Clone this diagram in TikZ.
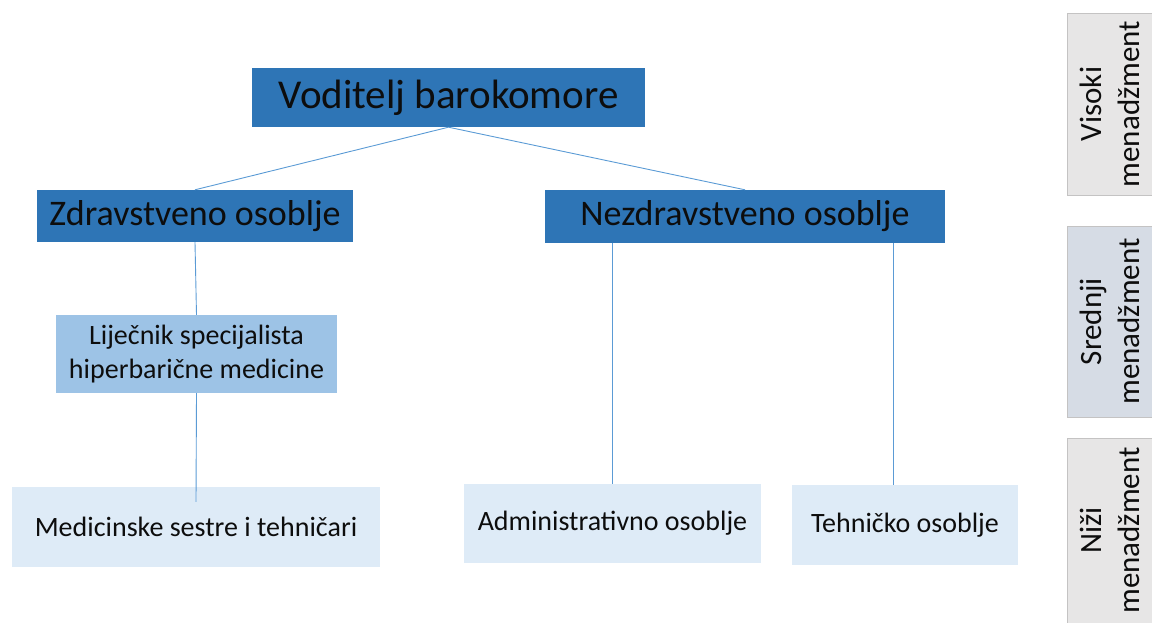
\documentclass[tikz,border=0pt]{standalone}
\usepackage{fontspec}
\setmainfont{Carlito}
\definecolor{darkblue}{HTML}{2E75B6}
\definecolor{midblue}{HTML}{9DC3E6}
\definecolor{lightblue}{HTML}{DEEBF7}
\definecolor{linkblue}{HTML}{5B9BD5}
\definecolor{levelgray}{HTML}{E7E6E6}
\definecolor{levelblue}{HTML}{D6DCE5}
\definecolor{textdark}{HTML}{0D0D0D}
\tikzset{
	box/.style={inner sep=0pt, align=center, text=textdark},
	head/.style={box, fill=darkblue, font=\fontsize{41}{48}\selectfont},
	branch/.style={box, fill=darkblue, font=\fontsize{36}{43}\selectfont},
	doctor/.style={box, fill=midblue, font=\fontsize{28}{33.5}\selectfont},
	staff/.style={box, fill=lightblue, font=\fontsize{28}{33.5}\selectfont},
	level/.style={box, draw=levelgray!85!black, line width=0.5pt, rotate=90,
		minimum width=182pt, minimum height=85pt, font=\fontsize{31}{38}\selectfont},
	link/.style={draw=linkblue, line width=0.9pt}
}
\begin{document}
\begin{tikzpicture}[x=1pt, y=-1pt]
	\useasboundingbox (0,0) rectangle (1152,623);

	\node(vod) [head, minimum width=393pt, minimum height=59pt] at (448.5,97.5) {Voditelj barokomore};
	\node(zdr) [branch, minimum width=316pt, minimum height=52pt] at (195,216) {Zdravstveno osoblje};
	\node(nez) [branch, minimum width=400pt, minimum height=53pt] at (745,216.5) {Nezdravstveno osoblje};
	\node(lij) [doctor, minimum width=281pt, minimum height=78pt] at (196.5,354) {Liječnik specijalista\\hiperbarične medicine};
	\node(med) [staff, minimum width=368pt, minimum height=80pt] at (196,527) {Medicinske sestre i tehničari};
	\node(adm) [staff, minimum width=297pt, minimum height=79pt] at (612.5,523.5) {Administrativno osoblje};
	\node(teh) [staff, minimum width=226pt, minimum height=80pt] at (905,525) {Tehničko osoblje};

	\node(vis) [level, fill=levelgray] at (1109.5,104) {Visoki\\menadžment};
	\node(sre) [level, fill=levelblue, minimum width=191pt] at (1109.5,321.5) {Srednji\\menadžment};
	\node(niz) [level, fill=levelgray, minimum width=185pt] at (1109.5,530.5) {Niži\\menadžment};

	\draw[link] (vod.south) -- (zdr.north);
	\draw[link] (vod.south) -- (nez.north);
	\draw[link] (zdr.south) -- (lij.north);
	\draw[link] (lij.south) -- ([yshift=-15pt]med.north);
	\draw[link] (adm.north |- nez.south) -- (adm.north);
	\draw[link] ([xshift=-12pt]teh.north |- nez.south) -- ([xshift=-12pt]teh.north);
\end{tikzpicture}
\end{document}
